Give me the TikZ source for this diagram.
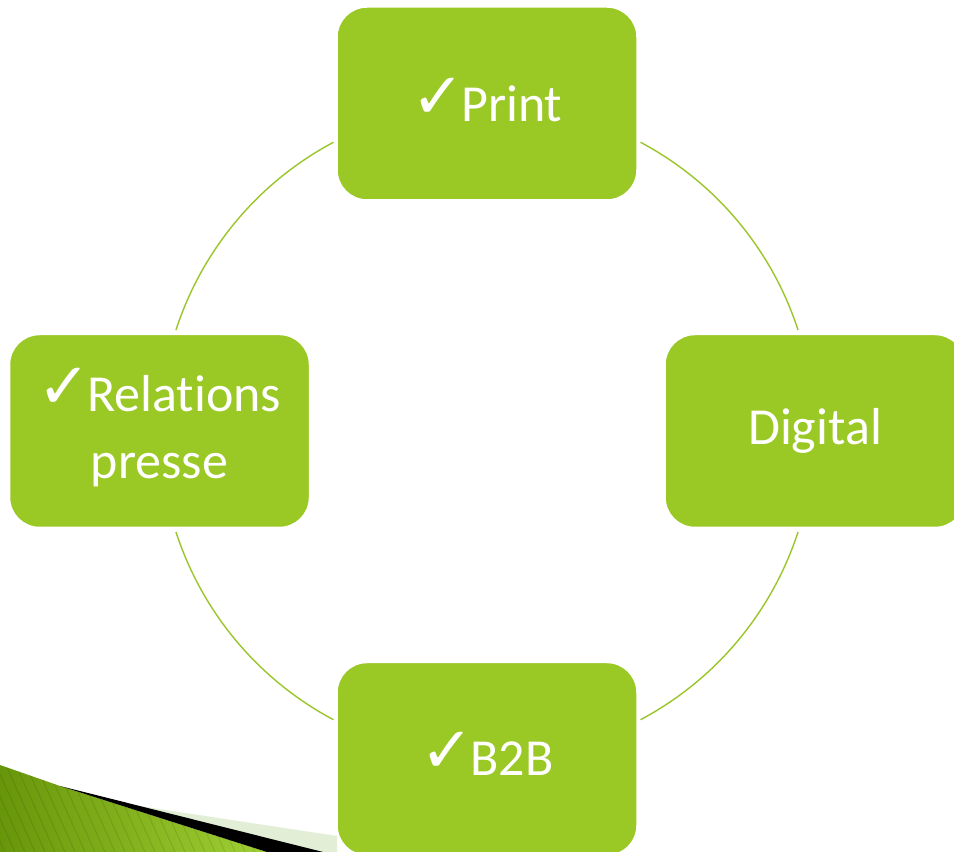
\documentclass[tikz,border=0pt]{standalone}
\usepackage{fontspec}
\setmainfont[Ligatures={NoCommon}]{Carlito}
\newfontfamily\ckfont{DejaVu Sans}
\definecolor{boxgreen}{RGB}{154,200,36}
\definecolor{linegreen}{RGB}{155,198,41}
\definecolor{darkleaf}{RGB}{104,150,10}
\definecolor{lightleaf}{RGB}{160,208,52}
\definecolor{palegreen}{RGB}{226,239,214}
\newcommand\ck{\smash{\raisebox{3pt}{\ckfont\fontsize{64}{70}\selectfont ✓}}\kern-4pt}
\tikzset{
  stagebox/.style={fill=boxgreen, draw=white, line width=1.5pt, rounded corners=30pt,
    minimum width=300pt, minimum height=193pt, text=white, align=center,
    font=\fontsize{52}{67}\selectfont, inner sep=0pt},
  ring/.style={draw=linegreen, line width=1.4pt}
}
\begin{document}
\begin{tikzpicture}[x=1pt,y=1pt]
\useasboundingbox (0,0) rectangle (954,852);
\clip (0,0) rectangle (954,852);
\fill[white] (0,0) rectangle (954,852);
% decoration bottom-left
\fill[palegreen] (100,52) -- (337,16) -- (337,0) -- (300,0) -- cycle;
\begin{scope}
  \clip (0,87) -- (60,66) -- (267,0) -- (0,0) -- cycle;
  \shade[left color=darkleaf, right color=lightleaf] (0,0) rectangle (270,90);
  \foreach \i in {-80,-70,...,300} {
    \draw[black, opacity=0.10, line width=0.9pt] (\i,100) -- (\i+45,0);
  }
\end{scope}
\fill[black] (60,66) -- (323,0) -- (267,0) -- cycle;
% ring
\coordinate (c) at (487,421);
\draw[ring] ([shift={(c)}]118:327) arc[start angle=118, end angle=162, radius=327];
\draw[ring] ([shift={(c)}]62:327) arc[start angle=62, end angle=18, radius=327];
\draw[ring] ([shift={(c)}]198:327) arc[start angle=198, end angle=242, radius=327];
\draw[ring] ([shift={(c)}]298:327) arc[start angle=298, end angle=342, radius=327];
% boxes
\node[stagebox] (print) at (487,748.5) {\ck Print};
\node[stagebox] (rel) at (159.5,421) {\ck Relations\\presse};
\node[stagebox] (dig) at (815,421) {Digital};
\node[stagebox] (b2b) at (487,93) {\ck B2B};
\end{tikzpicture}
\end{document}
